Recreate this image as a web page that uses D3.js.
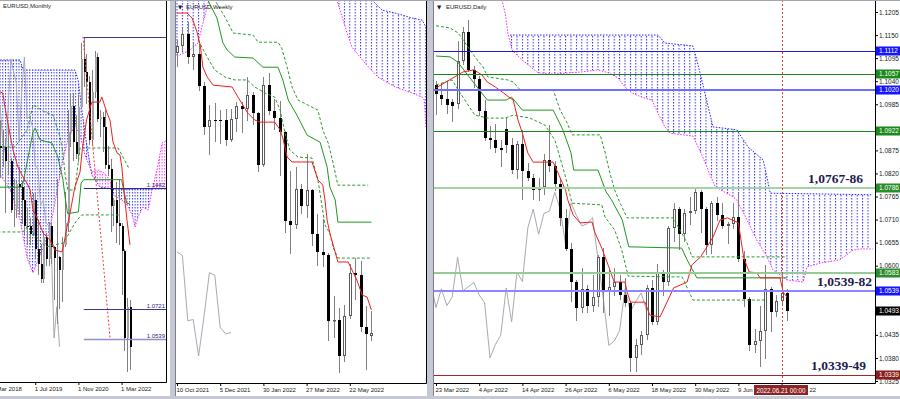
<!DOCTYPE html>
<html>
<head>
<meta charset="utf-8">
<title>EURUSD Monthly / Weekly / Daily</title>
<script src="https://d3js.org/d3.v7.min.js"></script>
<style>
  body { margin: 0; background: #fff; }
  svg { display: block; }
</style>
</head>
<body>
<script>
/* ---------------- DAILY (bar 0 = 23 Mar 2022 ... bar 65 = 22 Jun 2022) ---------------- */
var dOpen = [1.1030,1.1008,1.0997,1.0990,1.0985,1.1087,1.1157,1.1067,1.1045,1.0970,1.0905,1.0900,1.0880,1.0925,1.0888,1.0828,1.0890,1.0826,1.0808,1.0780,1.0787,1.0852,1.0838,1.0796,1.0714,1.0640,1.0560,1.0500,1.0545,1.0505,1.0525,1.0620,1.0540,1.0550,1.0560,1.0530,1.0512,1.0380,1.0412,1.0435,1.0547,1.0466,1.0585,1.0562,1.0690,1.0735,1.0675,1.0725,1.0730,1.0775,1.0735,1.0650,1.0750,1.0720,1.0695,1.0700,1.0715,1.0615,1.0520,1.0410,1.0420,1.0445,1.0545,1.0490,1.0515,1.0535];
var dHigh = [1.1040,1.1036,1.1037,1.0998,1.1137,1.1170,1.1185,1.1076,1.1053,1.0995,1.0934,1.0937,1.0900,1.0953,1.0905,1.0898,1.0924,1.0845,1.0818,1.0808,1.0866,1.0936,1.0850,1.0806,1.0735,1.0655,1.0565,1.0594,1.0555,1.0577,1.0626,1.0641,1.0590,1.0595,1.0578,1.0570,1.0515,1.0425,1.0445,1.0555,1.0565,1.0605,1.0590,1.0695,1.0750,1.0740,1.0735,1.0765,1.0787,1.0780,1.0740,1.0754,1.0765,1.0750,1.0705,1.0750,1.0774,1.0635,1.0525,1.0450,1.0505,1.0601,1.0550,1.0530,1.0582,1.0545];
var dLow = [1.0962,1.0985,1.0965,1.0945,1.0975,1.1080,1.1065,1.1027,1.0960,1.0900,1.0880,1.0870,1.0837,1.0870,1.0822,1.0808,1.0758,1.0805,1.0760,1.0757,1.0770,1.0825,1.0780,1.0697,1.0637,1.0515,1.0470,1.0490,1.0490,1.0493,1.0505,1.0490,1.0483,1.0530,1.0520,1.0505,1.0350,1.0350,1.0390,1.0425,1.0460,1.0460,1.0530,1.0555,1.0660,1.0640,1.0660,1.0700,1.0726,1.0680,1.0628,1.0630,1.0710,1.0690,1.0655,1.0690,1.0610,1.0505,1.0400,1.0395,1.0360,1.0380,1.0445,1.0480,1.0510,1.0470];
var dClose = [1.1010,1.0997,1.0983,1.0982,1.1087,1.1157,1.1067,1.1045,1.0970,1.0905,1.0900,1.0880,1.0876,1.0888,1.0828,1.0890,1.0826,1.0810,1.0780,1.0787,1.0852,1.0838,1.0796,1.0714,1.0640,1.0560,1.0500,1.0545,1.0505,1.0525,1.0620,1.0540,1.0550,1.0560,1.0530,1.0512,1.0380,1.0412,1.0435,1.0547,1.0466,1.0585,1.0562,1.0690,1.0735,1.0675,1.0725,1.0730,1.0775,1.0735,1.0650,1.0750,1.0720,1.0695,1.0700,1.0715,1.0615,1.0520,1.0410,1.0420,1.0445,1.0545,1.0490,1.0515,1.0535,1.0493];
var dTickBars = [0, 8, 16, 24, 32, 40, 48, 56, 64];
var dTickLabels = ["23 Mar 2022", "4 Apr 2022", "14 Apr 2022", "26 Apr 2022", "6 May 2022", "18 May 2022", "30 May 2022", "9 Jun 2022", "21 Jun 2022"];
var dPriceTicks = [1.1205,1.1150,1.1095,1.1040,1.0985,1.0875,1.0820,1.0765,1.0710,1.0655,1.0600,1.0435,1.0380,1.0325];
var dLevels = [1.1112, 1.1057, 1.1020, 1.0922, 1.0786, 1.0583, 1.0539, 1.0339];
var dLastPrice = 1.0493;
var dCursorBar = 64;
var dCursorText = "2022.06.21 00:00";
// ichimoku: [bar, price]
var dTenkan = [[0,1.1024],[5,1.1062],[7,1.1067],[8.5,1.1055],[9.5,1.1038],[11,1.1026],[12.5,1.1012],[13.5,1.1002],[14.3,1.0995],[15.2,1.0947],[16,1.0916],[17,1.0869],[18,1.0847],[21.7,1.0847],[22.6,1.0821],[24,1.0780],[24.4,1.0757],[25.4,1.0721],[26.7,1.0702],[28.9,1.0704],[29.4,1.0680],[30.7,1.0642],[32,1.0597],[33,1.0561],[35,1.0561],[35.4,1.0537],[36,1.0513],[38.7,1.0513],[39.6,1.0482],[41.5,1.0478],[44,1.0547],[46.5,1.0561],[47.4,1.0602],[49,1.0621],[51.3,1.0668],[52.6,1.0709],[54,1.0714],[56,1.0702],[57,1.0618],[58,1.0585],[59.4,1.0583],[60,1.0571],[63.7,1.0571],[64.3,1.0537],[65,1.0525]];
var dKijun = [[0,1.1100],[2.6,1.1098],[4,1.1086],[7,1.1036],[9.5,1.0995],[13,1.0995],[14,1.1002],[16,1.0971],[21.7,1.0971],[23.5,1.0924],[25,1.0869],[25.5,1.0828],[30,1.0828],[31.5,1.0776],[32.5,1.0757],[34.5,1.0709],[35.7,1.0645],[45.5,1.0642],[46.5,1.0614],[48.3,1.0571],[65,1.0571]];
var dDashA = [[0,1.1172],[2.6,1.1167],[4.1,1.1155],[7.2,1.1098],[8.7,1.1074],[9.6,1.1050],[13.3,1.1043],[14.3,1.1038],[15.6,1.1019],[21.7,1.1019],[23,1.0971],[24.3,1.0940],[25.2,1.0912],[30.4,1.0912],[31.3,1.0871],[32.2,1.0821],[33.1,1.0780],[34.1,1.0749],[35.4,1.0714],[43.9,1.0714],[45.2,1.0685],[46.5,1.0654],[47.4,1.0621],[65,1.0621]];
var dDashB = [[0,1.1031],[3,1.1043],[4.1,1.1019],[7.2,1.0959],[9.6,1.0952],[12.8,1.0952],[14.3,1.0959],[17.4,1.0952],[20.2,1.0935],[22,1.0900],[23.9,1.0816],[25.2,1.0749],[30.7,1.0745],[31.3,1.0716],[33.1,1.0685],[34.4,1.0637],[35.6,1.0575],[45.6,1.0573],[46.7,1.0542],[47.6,1.0518],[61.3,1.0518]];
var dSpanA = [[13.7,1.1150],[41.1,1.1150],[42.4,1.1131],[47.6,1.1124],[48.9,1.1060],[51.3,1.0931],[55.7,1.0924],[57.8,1.0883],[60.6,1.0852],[61.9,1.0773],[80.9,1.0769]];
var dSpanB = [[12.2,1.1234],[12.8,1.1203],[13.3,1.1155],[14.1,1.1114],[15.9,1.1091],[18.9,1.1060],[21.5,1.1057],[27,1.1062],[30,1.1067],[31.9,1.1060],[33.7,1.1048],[35,1.1026],[36.3,1.1012],[38.1,1.1002],[40,1.0995],[41.1,1.0964],[42.4,1.0931],[43.3,1.0916],[47.6,1.0909],[49.4,1.0859],[51.7,1.0788],[55,1.0764],[55.7,1.0757],[57.6,1.0709],[59.4,1.0661],[61.3,1.0621],[62.4,1.0590],[65,1.0566],[68,1.0561],[68.7,1.0597],[71.1,1.0606],[74.8,1.0614],[77.2,1.0637],[78.5,1.0640],[80.9,1.0640]];

/* ---------------- WEEKLY (bar 0 = 10 Oct 2021 ... bar 36 = 19 Jun 2022) ---------------- */
var wOpen = [1.1572,1.1600,1.1645,1.1558,1.1568,1.1445,1.1289,1.1318,1.1316,1.1315,1.1239,1.1320,1.1370,1.1359,1.1413,1.1344,1.1145,1.1450,1.1349,1.1322,1.1270,1.0930,1.0912,1.1051,1.0985,1.1047,1.0877,1.0810,1.0796,1.0545,1.0550,1.0410,1.0562,1.0730,1.0720,1.0520,1.0485];
var wHigh = [1.1624,1.1669,1.1692,1.1617,1.1608,1.1464,1.1374,1.1383,1.1355,1.1360,1.1360,1.1385,1.1386,1.1482,1.1422,1.1347,1.1483,1.1495,1.1395,1.1390,1.1274,1.1121,1.1137,1.1070,1.1185,1.1053,1.0955,1.0936,1.0806,1.0641,1.0595,1.0607,1.0765,1.0787,1.0774,1.0601,1.0582];
var wLow = [1.1525,1.1586,1.1535,1.1513,1.1432,1.1263,1.1186,1.1235,1.1227,1.1222,1.1235,1.1275,1.1272,1.1315,1.1301,1.1121,1.1140,1.1340,1.1280,1.1106,1.0885,1.0806,1.0900,1.0961,1.0945,1.0837,1.0758,1.0757,1.0470,1.0483,1.0350,1.0390,1.0555,1.0628,1.0505,1.0359,1.0470];
var wClose = [1.1600,1.1645,1.1558,1.1568,1.1445,1.1289,1.1318,1.1316,1.1315,1.1239,1.1320,1.1370,1.1359,1.1413,1.1344,1.1145,1.1450,1.1349,1.1322,1.1270,1.0930,1.0912,1.1051,1.0985,1.1047,1.0877,1.0810,1.0796,1.0545,1.0550,1.0410,1.0562,1.0730,1.0720,1.0520,1.0495,1.0500];
var wTickBars = [0, 8, 16, 24, 32];
var wTickLabels = ["10 Oct 2021", "5 Dec 2021", "30 Jan 2022", "27 Mar 2022", "22 May 2022"];
var wTenkan = [[0,1.1727],[1.85,1.1727],[2.8,1.1708],[3.7,1.1654],[4.3,1.1604],[4.8,1.1519],[5.6,1.1481],[6.7,1.1450],[10.2,1.1443],[11.3,1.1404],[13.1,1.1343],[14.4,1.1316],[15.4,1.1308],[18.1,1.1308],[19.1,1.1278],[19.6,1.1247],[20.4,1.1174],[21.3,1.1155],[25,1.1155],[26.1,1.1086],[27,1.1066],[27.4,1.1009],[27.8,1.0932],[28.3,1.0882],[29.8,1.0771],[31.7,1.0771],[32.6,1.0732],[33.3,1.0702],[34.3,1.0644],[35.2,1.0636],[36,1.0587]];
var wKijun = [[4.5,1.1850],[5.7,1.1777],[7.4,1.1708],[8.5,1.1612],[9.3,1.1585],[10.7,1.1558],[14.1,1.1554],[15.9,1.1519],[18.7,1.1519],[19.6,1.1470],[20.6,1.1393],[22.2,1.1335],[24.1,1.1258],[26.5,1.1231],[27.8,1.1136],[28.3,1.1059],[29.3,1.1009],[29.8,1.0924],[36,1.0924]];
var wDashA = [[6,1.1820],[7,1.1777],[8.9,1.1711],[10.4,1.1650],[14.1,1.1642],[15,1.1615],[18.7,1.1615],[19.4,1.1592],[20.4,1.1519],[21.3,1.1443],[22.4,1.1393],[26.1,1.1354],[27,1.1278],[28,1.1228],[28.9,1.1151],[29.8,1.1066],[35.4,1.1066]];
var wDashB = [[3.9,1.1623],[5.7,1.1554],[7,1.1508],[8.9,1.1481],[10.7,1.1470],[13,1.1470],[14.4,1.1443],[16.3,1.1420],[18.1,1.1404],[19.1,1.1354],[20,1.1266],[20.9,1.1201],[22.4,1.1174],[25,1.1170],[26.1,1.1086],[27.4,1.0913],[28.3,1.0882],[28.9,1.0828],[29.8,1.0786],[35.7,1.0786]];
var wSpanA = [[-1,1.1853],[28,1.1900],[29.6,1.1850],[36.1,1.1777],[38,1.1738],[40.4,1.1727],[43.5,1.1708],[45.4,1.1700],[46.1,1.1673]];
var wSpanB = [[-1,1.1550],[2.4,1.1585],[3.9,1.1612],[4.6,1.1673],[5.6,1.1750],[6.3,1.1815],[15,1.1950],[28.9,1.1835],[29.6,1.1777],[31.5,1.1650],[32.4,1.1596],[34.8,1.1535],[37.2,1.1481],[40.4,1.1443],[43.5,1.1420],[45.4,1.1404],[45.8,1.1393],[46.1,1.1289]];

/* ---------------- MONTHLY (bar 0 = Mar 2018 ... bar 51 = Jun 2022) ---------------- */
var mOpen = [1.2190,1.2320,1.2130,1.1693,1.1685,1.1690,1.1602,1.1604,1.1311,1.1316,1.1467,1.1449,1.1372,1.1217,1.1214,1.1168,1.1372,1.1076,1.0987,1.0899,1.1152,1.1017,1.1213,1.1092,1.1027,1.1031,1.0955,1.1101,1.1234,1.1777,1.1937,1.1720,1.1646,1.1928,1.2216,1.2136,1.2075,1.1729,1.2020,1.2227,1.1858,1.1870,1.1807,1.1578,1.1558,1.1338,1.1370,1.1235,1.1218,1.1067,1.0545,1.0733];
var mHigh = [1.2476,1.2414,1.2155,1.1852,1.1791,1.1734,1.1815,1.1625,1.1500,1.1486,1.1570,1.1488,1.1448,1.1324,1.1265,1.1412,1.1412,1.1250,1.1110,1.1179,1.1176,1.1240,1.1239,1.1095,1.1496,1.1039,1.1147,1.1422,1.1909,1.2011,1.2011,1.1881,1.2003,1.2310,1.2349,1.2243,1.2113,1.2150,1.2266,1.2254,1.1909,1.1900,1.1909,1.1692,1.1617,1.1386,1.1482,1.1495,1.1233,1.1076,1.0787,1.0774];
var mLow = [1.2155,1.2055,1.1510,1.1508,1.1575,1.1301,1.1526,1.1302,1.1216,1.1269,1.1289,1.1234,1.1176,1.1110,1.1107,1.1160,1.1027,1.0927,1.0879,1.0879,1.0981,1.0981,1.0992,1.0778,1.0636,1.0727,1.0766,1.1098,1.1186,1.1696,1.1612,1.1622,1.1603,1.1925,1.2054,1.1952,1.1704,1.1704,1.1986,1.1847,1.1752,1.1664,1.1563,1.1524,1.1186,1.1222,1.1121,1.1106,1.0806,1.0472,1.0350,1.0359];
var mClose = [1.2320,1.2130,1.1693,1.1685,1.1690,1.1602,1.1604,1.1311,1.1316,1.1467,1.1449,1.1372,1.1217,1.1214,1.1168,1.1372,1.1076,1.0987,1.0899,1.1152,1.1017,1.1213,1.1092,1.1027,1.1031,1.0955,1.1101,1.1234,1.1777,1.1937,1.1720,1.1646,1.1928,1.2216,1.2136,1.2075,1.1729,1.2020,1.2227,1.1858,1.1870,1.1807,1.1578,1.1558,1.1338,1.1370,1.1235,1.1218,1.1067,1.0545,1.0733,1.0493];
var mTickBars = [0, 16, 32, 48];
var mTickLabels = ["1 Mar 2018", "1 Jul 2019", "1 Nov 2020", "1 Mar 2022"];
var mLevels = [1.2349, 1.1442, 1.0721, 1.0539];
var mLevelText = ["", "1.1442", "1.0721", "1.0539"];
var mLevelFrom = 34;
var mTenkan = [[3,1.2018],[4,1.2012],[4.8,1.1928],[5.9,1.1832],[7.8,1.1671],[9.6,1.1569],[11.1,1.1521],[12.2,1.1491],[13.3,1.1461],[14.1,1.1431],[15.2,1.1311],[16.7,1.1264],[17.8,1.1222],[18.9,1.1174],[21.5,1.1132],[23.3,1.1072],[25.9,1.1060],[26.7,1.1114],[27.8,1.1210],[28.9,1.1293],[30.7,1.1449],[32.6,1.1539],[33.5,1.1680],[35,1.1850],[37,1.1958],[40,1.1958],[40.7,1.1988],[42.6,1.1892],[43.7,1.1850],[44.8,1.1720],[46.3,1.1653],[47.4,1.1641],[48.1,1.1569],[48.9,1.1419],[50,1.1251],[51.1,1.1102]];
var mKijun = [[2,1.1448],[11,1.1448],[11.5,1.1473],[15.2,1.1779],[16,1.1802],[17.8,1.1731],[22.2,1.1713],[24.4,1.1629],[26.3,1.1491],[27,1.1396],[28,1.1290],[32,1.1300],[33,1.1473],[34,1.1493],[48,1.1493],[49,1.1411],[50,1.1350],[51,1.1350]];
var mDashA = [[2,1.1689],[8.5,1.1689],[13,1.1790],[15.2,1.1940],[19.6,1.1898],[22.6,1.1880],[25.2,1.1749],[26.3,1.1653],[27,1.1533],[28.1,1.1431],[30.7,1.1431],[32.6,1.1683],[46.7,1.1683],[48.5,1.1629],[50.4,1.1569],[51.1,1.1569]];
var mDashB = [[2,1.1180],[11.5,1.1180],[13,1.1210],[20,1.1090],[26.3,1.1114],[27.8,1.1150],[29.6,1.1204],[31.5,1.1252],[33.3,1.1282],[47.4,1.1282]];
var mSpanA = [[2,1.2210],[10.4,1.2210],[11.5,1.2150],[30.7,1.2150],[31.9,1.2090],[33.3,1.1910],[34.8,1.1731],[37,1.1521],[40,1.1449],[44.4,1.1437],[65,1.1437]];
var mSpanB = [[2,1.1551],[6.7,1.1431],[10.4,1.1252],[13,1.1024],[15.2,1.0934],[17.8,1.1042],[20.4,1.1132],[22.6,1.1293],[24.4,1.1449],[26.3,1.1611],[28.1,1.1731],[30.7,1.1820],[32.6,1.1760],[34.4,1.1641],[37,1.1539],[39.3,1.1551],[41.5,1.1533],[43.7,1.1491],[44.8,1.1401],[48.1,1.1371],[50,1.1341],[51.9,1.1282],[53,1.1210],[54.1,1.1270],[55.9,1.1329],[57.8,1.1311],[59.3,1.1431],[61.1,1.1551],[63,1.1713],[65,1.1731]];
var mTrend = [[33.7,1.2349],[43.7,1.0545]];

var chikouShift = 26;

/*************************************************/
var width = 900, height = 399;
var fontSans = "'Liberation Sans', Arial, sans-serif";
var svg = d3.select("body").append("svg")
	.attr("width", width)
	.attr("height", height)
	.style("font-family", fontSans);
var defs = svg.append("defs");

svg.append("rect").attr("width", width).attr("height", height).attr("fill", "#fff");

// scales
var xM = d3.scaleLinear().domain([0, 51]).range([-8, 129.7]);
var yM = d3.scaleLinear().domain([1.0539, 1.2569]).range([339, 0]);
var xW = d3.scaleLinear().domain([0, 36]).range([177, 371.4]);
var yW = d3.scaleLinear().domain([1.0410, 1.1777]).range([356, 0]);
var xD = d3.scaleLinear().domain([0, 65]).range([436, 787]);
var yD = d3.scaleLinear().domain([1.1205, 1.0325]).range([12, 381]);

function panel(id, x0, y0, x1, y1) {
	defs.append("clipPath").attr("id", id).append("rect")
		.attr("x", x0).attr("y", y0).attr("width", x1 - x0).attr("height", y1 - y0);
	return svg.append("g").attr("clip-path", "url(#" + id + ")");
}

function toPx(x, y, arr) {
	return arr.map(function (d) { return [x(d[0]), y(d[1])]; });
}

function closedPoly(p, edge) {
	var s = "M" + p.map(function (q) { return q[0].toFixed(2) + "," + q[1].toFixed(2); }).join("L");
	return s + "L" + p[p.length - 1][0].toFixed(2) + "," + edge + "L" + p[0][0].toFixed(2) + "," + edge + "Z";
}

function hatch(id, color, step, x0) {
	var p = defs.append("pattern").attr("id", id)
		.attr("patternUnits", "userSpaceOnUse")
		.attr("x", x0 - 0.5).attr("y", 0)
		.attr("width", step).attr("height", 3);
	p.append("rect").attr("width", 1).attr("height", 1.5).attr("fill", color);
}

function drawCloud(g, key, x, y, spanA, spanB, step) {
	var a = toPx(x, y, spanA), b = toPx(x, y, spanB);
	hatch(key + "-hb", "#2f2fff", step, x(0));
	hatch(key + "-hm", "#ff2fff", step, x(0));
	defs.append("clipPath").attr("id", key + "-upA").append("path").attr("d", closedPoly(a, -2000));
	defs.append("clipPath").attr("id", key + "-upB").append("path").attr("d", closedPoly(b, -2000));
	// span A above span B -> blue, otherwise magenta
	g.append("path").attr("d", closedPoly(a, 3000))
		.attr("fill", "url(#" + key + "-hb)").attr("clip-path", "url(#" + key + "-upB)");
	g.append("path").attr("d", closedPoly(b, 3000))
		.attr("fill", "url(#" + key + "-hm)").attr("clip-path", "url(#" + key + "-upA)");
	var line = d3.line();
	g.append("path").attr("d", line(a)).attr("fill", "none")
		.attr("stroke", "#2020ff").attr("stroke-dasharray", "1.5,1.5");
	g.append("path").attr("d", line(b)).attr("fill", "none")
		.attr("stroke", "#ff20ff").attr("stroke-dasharray", "1.5,1.5");
}

function drawLine(g, x, y, arr, color, dash, w) {
	g.append("path")
		.attr("d", d3.line().x(function (d) { return x(d[0]); }).y(function (d) { return y(d[1]); })(arr))
		.attr("fill", "none")
		.attr("stroke", color)
		.attr("stroke-width", w || 1)
		.attr("stroke-dasharray", dash || null);
}

function chikou(closes, from) {
	var out = [];
	for (var i = from; i + chikouShift < closes.length; i++) out.push([i, closes[i + chikouShift]]);
	return out;
}

function drawCandles(g, x, y, o, h, l, c, small) {
	var idx = d3.range(o.length);
	var cx = function (i) { return Math.round(x(i)); };
	g.selectAll(null).data(idx).enter().append("line")
		.attr("x1", function (i) { return cx(i) + 0.5; })
		.attr("x2", function (i) { return cx(i) + 0.5; })
		.attr("y1", function (i) { return Math.round(y(h[i])); })
		.attr("y2", function (i) { return Math.round(y(l[i])) + 1; })
		.attr("stroke", "#808080");
	g.selectAll(null).data(idx).enter().append("rect")
		.attr("x", function (i) {
			if (small) return cx(i);
			return c[i] >= o[i] ? cx(i) - 0.5 : cx(i) - 1;
		})
		.attr("y", function (i) {
			var t = Math.round(y(Math.max(o[i], c[i])));
			return (!small && c[i] >= o[i]) ? t + 0.5 : t;
		})
		.attr("width", function (i) { return small ? 2 : (c[i] >= o[i] ? 2 : 3); })
		.attr("height", function (i) {
			var t = Math.round(y(Math.max(o[i], c[i]))), b = Math.round(y(Math.min(o[i], c[i])));
			if (!small && c[i] >= o[i]) return Math.max(0.5, b - t - 1);
			return Math.max(1, b - t);
		})
		.attr("fill", function (i) { return c[i] >= o[i] ? (small ? "#a4a4a4" : "#fff") : "#000"; })
		.attr("stroke", function (i) { return (!small && c[i] >= o[i]) ? "#5a5a5a" : "none"; });
}

function dateAxis(x, bars, labels, y0) {
	var ax = d3.axisBottom(x).tickValues(bars)
		.tickFormat(function (d, i) { return labels[i]; })
		.tickSize(3).tickPadding(2);
	var g = svg.append("g").attr("transform", "translate(0," + y0 + ")").call(ax)
		.attr("font-family", fontSans).attr("font-size", 6);
	g.select(".domain").remove();
	g.selectAll("line").attr("stroke", "#000");
	g.selectAll("text").attr("text-anchor", "start").attr("x", -1).attr("fill", "#1a1a1a");
	return g;
}

/*************************************************/
// MONTHLY
var gm = panel("clipM", 0, 1, 166, 382);
drawCloud(gm, "m", xM, yM, mSpanA, mSpanB, 2.7);
drawLine(gm, xM, yM, chikou(mClose, 0), "#a6aab2");
drawCandles(gm, xM, yM, mOpen, mHigh, mLow, mClose, true);
drawLine(gm, xM, yM, mDashB, "#2c9a2c", "3,2");
drawLine(gm, xM, yM, mDashA, "#2c9a2c", "3,2");
drawLine(gm, xM, yM, mKijun, "#1f961f");
drawLine(gm, xM, yM, mTenkan, "#f01e1e");
drawLine(gm, xM, yM, mTrend, "#f03c3c", "2,2");
var mLevelColor = ["#3a3a8c", "#2c2c7c", "#3a3a8c", "#8e8ed0"];
mLevels.forEach(function (p, i) {
	var yy = Math.round(yM(p)) + 0.5;
	gm.append("line").attr("x1", xM(mLevelFrom)).attr("x2", 166).attr("y1", yy).attr("y2", yy)
		.attr("stroke", mLevelColor[i]).attr("stroke-width", i === 3 ? 1.5 : 1);
	if (mLevelText[i]) {
		gm.append("text").attr("x", 165).attr("y", yy - 2).attr("text-anchor", "end")
			.attr("font-size", 6).attr("fill", "#2a2a6e").text(mLevelText[i]);
	}
});

// WEEKLY
var gw = panel("clipW", 176, 1, 426, 383);
drawCloud(gw, "w", xW, yW, wSpanA, wSpanB, 5.4);
drawLine(gw, xW, yW, chikou(wClose, 0), "#a6aab2");
drawCandles(gw, xW, yW, wOpen, wHigh, wLow, wClose, false);
drawLine(gw, xW, yW, wDashA, "#2c9a2c", "3,2");
drawLine(gw, xW, yW, wDashB, "#2c9a2c", "3,2");
drawLine(gw, xW, yW, wKijun, "#1f961f");
drawLine(gw, xW, yW, wTenkan, "#f01e1e");

// DAILY
var gd = panel("clipD", 434, 1, 875, 383);
drawCloud(gd, "d", xD, yD, dSpanA, dSpanB, 5.4);
drawLine(gd, xD, yD, chikou(dClose, -1), "#a6aab2");
drawCandles(gd, xD, yD, dOpen, dHigh, dLow, dClose, false);
drawLine(gd, xD, yD, dDashA, "#2c9a2c", "3,2");
drawLine(gd, xD, yD, dDashB, "#2c9a2c", "3,2");
drawLine(gd, xD, yD, dKijun, "#1f961f");
drawLine(gd, xD, yD, dTenkan, "#f01e1e");

var dLevelStyle = [
	{ line: "#1c1cc8", w: 1, box: "#1414ff" },
	{ line: "#168816", w: 1, box: "#1a8a1a" },
	{ line: "#6e6eff", w: 2, box: "#1414ff" },
	{ line: "#168816", w: 1, box: "#1a8a1a" },
	{ line: "#a4d4a4", w: 2, box: "#2a8c2a" },
	{ line: "#94cc94", w: 2, box: "#2a8c2a" },
	{ line: "#8888ff", w: 2, box: "#1414ff" },
	{ line: "#a02828", w: 1, box: "#8b1c1c" }
];
dLevels.forEach(function (p, i) {
	var yy = Math.round(yD(p)) + (dLevelStyle[i].w === 1 ? 0.5 : 0);
	gd.append("line").attr("x1", 434).attr("x2", 875).attr("y1", yy).attr("y2", yy)
		.attr("stroke", dLevelStyle[i].line).attr("stroke-width", dLevelStyle[i].w);
});

// cursor line
var cx = Math.round(xD(dCursorBar)) + 0.5;
gd.append("line").attr("x1", cx).attr("x2", cx).attr("y1", 0).attr("y2", 383)
	.attr("stroke", "#e8402c").attr("stroke-dasharray", "2,2");

// level notes
var notes = [["1,0767-86", 808, 183], ["1,0539-82", 817, 286], ["1,0339-49", 811, 370]];
notes.forEach(function (n) {
	svg.append("text").attr("x", n[1]).attr("y", n[2])
		.attr("font-family", "'Liberation Serif', 'Times New Roman', serif")
		.attr("font-weight", "bold").attr("font-size", 13.5).attr("fill", "#1c1c50")
		.text(n[0]);
});

/*************************************************/
// frames
svg.append("rect").attr("x", 0).attr("y", 0).attr("width", width).attr("height", 1).attr("fill", "#a4a4ac");
svg.append("path").attr("d", "M166.5,1V382.5H0").attr("fill", "none").attr("stroke", "#000");
svg.append("rect").attr("x", 170).attr("y", 1).attr("width", 5).attr("height", 398).attr("fill", "#c6c8d4");
svg.append("line").attr("x1", 175.5).attr("x2", 175.5).attr("y1", 1).attr("y2", 399).attr("stroke", "#7c7e8c");
svg.append("path").attr("d", "M176,383.5H426.5V1").attr("fill", "none").attr("stroke", "#000");
svg.append("rect").attr("x", 427).attr("y", 1).attr("width", 6).attr("height", 398).attr("fill", "#c6c8d4");
svg.append("line").attr("x1", 433.5).attr("x2", 433.5).attr("y1", 1).attr("y2", 399).attr("stroke", "#7c7e8c");
svg.append("path").attr("d", "M434,383.5H875.5V1").attr("fill", "none").attr("stroke", "#000");
svg.append("rect").attr("x", 0).attr("y", 396).attr("width", width).attr("height", 3).attr("fill", "#c6c8d4");

// titles
svg.append("text").attr("x", 3).attr("y", 8).attr("font-size", 6).attr("fill", "#222").text("EURUSD,Monthly");
svg.append("text").attr("x", 178).attr("y", 9).attr("font-size", 5.5).attr("font-family", "'DejaVu Sans'").attr("fill", "#222").text("\u25BC");
svg.append("text").attr("x", 186).attr("y", 9).attr("font-size", 6).attr("fill", "#222").text("EURUSD,Weekly");
svg.append("text").attr("x", 437).attr("y", 9).attr("font-size", 5.5).attr("font-family", "'DejaVu Sans'").attr("fill", "#222").text("\u25BC");
svg.append("text").attr("x", 446).attr("y", 9).attr("font-size", 6).attr("fill", "#222").text("EURUSD,Daily");

// date axes
dateAxis(xM, mTickBars, mTickLabels, 382);
dateAxis(xW, wTickBars, wTickLabels, 383);
var dAx = dateAxis(xD, dTickBars, dTickLabels, 383);

// the cursor date box hides the tails of the labels around it: show only what stays visible
var boxL = 754, boxR = 808;
dAx.selectAll(".tick").each(function (d) {
	var t = d3.select(this).select("text");
	var x0 = xD(d) - 1;
	var full = t.text();
	if (d === dCursorBar) {
		t.text(full.slice(-2)).attr("x", boxR - xD(d) + 1);
	} else if (x0 < boxL && x0 + 34 > boxL) {
		t.text(full.split(" ").slice(0, 2).join(" "));
	}
});
svg.append("rect").attr("x", boxL).attr("y", 385).attr("width", boxR - boxL).attr("height", 10).attr("fill", "#8b2424");
svg.append("text").attr("x", (boxL + boxR) / 2).attr("y", 392.5).attr("text-anchor", "middle")
	.attr("font-size", 6.3).attr("fill", "#fff").text(dCursorText);

// price axis
var pax = svg.append("g").attr("transform", "translate(875,0)")
	.call(d3.axisRight(yD).tickValues(dPriceTicks).tickSize(3).tickPadding(1).tickFormat(d3.format(".4f")))
	.attr("font-family", fontSans).attr("font-size", 6.5);
pax.select(".domain").remove();
pax.selectAll("line").attr("stroke", "#000");
pax.selectAll("text").attr("fill", "#1a1a1a");

function priceBox(p, bg) {
	var yy = Math.round(yD(p));
	svg.append("rect").attr("x", 876).attr("y", yy - 4.5).attr("width", 24).attr("height", 9).attr("fill", bg);
	svg.append("text").attr("x", 879).attr("y", yy + 2.3).attr("font-size", 6.5).attr("fill", "#fff")
		.text(d3.format(".4f")(p));
}
dLevels.forEach(function (p, i) { priceBox(p, dLevelStyle[i].box); });
priceBox(dLastPrice, "#000");
</script>
</body>
</html>
